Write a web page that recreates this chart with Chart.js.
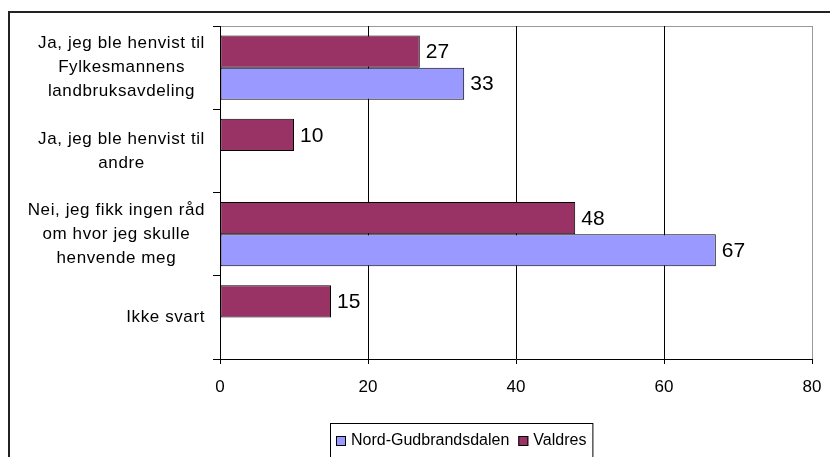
<!DOCTYPE html>
<html lang="no">
<head>
<meta charset="UTF-8">
<title>Henvisning</title>
<script src="https://cdn.jsdelivr.net/npm/chart.js"></script>
<style>
  html, body { margin: 0; padding: 0; background: #fff; }
  canvas { display: block; }
</style>
</head>
<body>
<canvas id="chart" width="830" height="457"></canvas>
<script>
// data
const categories = [
    ['Ja, jeg ble henvist til', 'Fylkesmannens', 'landbruksavdeling'],
    ['Ja, jeg ble henvist til', 'andre'],
    ['Nei, jeg fikk ingen råd', 'om hvor jeg skulle', 'henvende meg'],
    ['Ikke svart']
];
const seriesNames = ['Nord-Gudbrandsdalen', 'Valdres'];
const nordGudbrandsdalen = [33, null, 67, null];
const valdres = [27, 10, 48, 15];
const xTicks = [0, 20, 40, 60, 80];

const FONT = '"Liberation Sans", Arial, sans-serif';
const BLUE = '#9999FF';
const MAROON = '#993366';

// frame round the whole chart + grey top edge of plot area
const framePlugin = {
    id: 'frame',
    beforeDraw(chart) {
        const c = chart.ctx, a = chart.chartArea;
        c.save();
        c.strokeStyle = '#222';
        c.lineWidth = 2;
        c.strokeRect(9, 12, 900, 500);
        c.strokeStyle = '#999';
        c.lineWidth = 1;
        c.beginPath();
        c.moveTo(a.left, a.top + 0.5);
        c.lineTo(a.right + 0.5, a.top + 0.5);
        c.stroke();
        c.restore();
    }
};

// category labels: each block right aligned, lines centred inside it
const catLabelPlugin = {
    id: 'catLabels',
    afterDraw(chart) {
        const c = chart.ctx, y = chart.scales.y;
        c.save();
        c.font = '17px ' + FONT;
        if ('letterSpacing' in c) c.letterSpacing = '0.6px';
        c.fillStyle = '#000';
        c.textAlign = 'center';
        c.textBaseline = 'middle';
        const lh = 24;
        categories.forEach((lines, i) => {
            const cy = y.getPixelForValue(i);
            const w = Math.max(...lines.map(l => c.measureText(l).width));
            const cx = y.right - 15 - w / 2;
            lines.forEach((l, k) => {
                c.fillText(l, cx, cy + (k - (lines.length - 1) / 2) * lh);
            });
        });
        c.restore();
    }
};

// value labels at bar ends
const valueLabelPlugin = {
    id: 'valueLabels',
    afterDatasetsDraw(chart) {
        const c = chart.ctx;
        c.save();
        c.font = '21px ' + FONT;
        c.fillStyle = '#000';
        c.textAlign = 'left';
        c.textBaseline = 'middle';
        chart.data.datasets.forEach((ds, i) => {
            chart.getDatasetMeta(i).data.forEach((bar, j) => {
                if (ds.data[j] == null) return;
                c.fillText(String(ds.data[j]), bar.x + 6, bar.y + 1);
            });
        });
        c.restore();
    }
};

// boxed legend under the axis
const legendPlugin = {
    id: 'boxLegend',
    afterDraw(chart) {
        const c = chart.ctx;
        c.save();
        c.font = '16px ' + FONT;
        const order = [1, 0]; // Nord-Gudbrandsdalen first
        const items = order.map(i => chart.data.datasets[i]);
        const box = 10, gapIn = 5, gapOut = 9, pad = 6;
        let total = pad * 2;
        items.forEach((ds, k) => {
            total += box + gapIn + c.measureText(ds.label).width;
            if (k < items.length - 1) total += gapOut;
        });
        const left = Math.round(461.5 - total / 2);
        const top = 423, cy = 441;
        c.strokeStyle = '#000';
        c.lineWidth = 1;
        c.strokeRect(left + 0.5, top + 0.5, total, 60);
        let x = left + pad;
        c.textBaseline = 'middle';
        c.textAlign = 'left';
        items.forEach(ds => {
            c.fillStyle = ds.backgroundColor;
            c.fillRect(x, cy - 5, box, box);
            c.strokeRect(x + 0.5, cy - 5 + 0.5, box - 1, box - 1);
            x += box + gapIn;
            c.fillStyle = '#000';
            c.fillText(ds.label, x, cy);
            x += c.measureText(ds.label).width + gapOut;
        });
        c.restore();
    }
};

new Chart(document.getElementById('chart'), {
    type: 'bar',
    data: {
        labels: categories,
        datasets: [
            {
                label: seriesNames[1],
                data: valdres,
                backgroundColor: MAROON,
                borderColor: '#000',
                borderWidth: 1,
                borderSkipped: false,
                categoryPercentage: 0.77,
                barPercentage: 1
            },
            {
                label: seriesNames[0],
                data: nordGudbrandsdalen,
                backgroundColor: BLUE,
                borderColor: '#000',
                borderWidth: 1,
                borderSkipped: false,
                categoryPercentage: 0.77,
                barPercentage: 1
            }
        ]
    },
    options: {
        indexAxis: 'y',
        responsive: false,
        animation: false,
        layout: { padding: { top: 26, right: 18, left: 0, bottom: 0 } },
        plugins: {
            legend: { display: false },
            tooltip: { enabled: false }
        },
        scales: {
            x: {
                position: 'bottom',
                min: xTicks[0],
                max: xTicks[xTicks.length - 1],
                afterBuildTicks(scale) {
                    scale.ticks = xTicks.map(v => ({ value: v }));
                },
                afterFit(scale) {
                    scale.height = 98;
                    scale.paddingLeft = 0;
                    scale.paddingRight = 0;
                },
                border: { color: '#000', width: 1 },
                grid: {
                    color: ctx => ctx.tick && ctx.tick.value === 80 ? '#999' : '#000',
                    tickColor: '#000',
                    tickLength: 5,
                    lineWidth: 1
                },
                ticks: {
                    color: '#000',
                    padding: 13,
                    font: { family: FONT, size: 17 }
                }
            },
            y: {
                position: 'left',
                afterFit(scale) { scale.width = 220; },
                border: { color: '#000', width: 1 },
                grid: {
                    drawOnChartArea: false,
                    tickColor: '#000',
                    tickLength: 7,
                    offset: true
                },
                ticks: { display: false }
            }
        }
    },
    plugins: [framePlugin, catLabelPlugin, valueLabelPlugin, legendPlugin]
});
</script>
</body>
</html>
